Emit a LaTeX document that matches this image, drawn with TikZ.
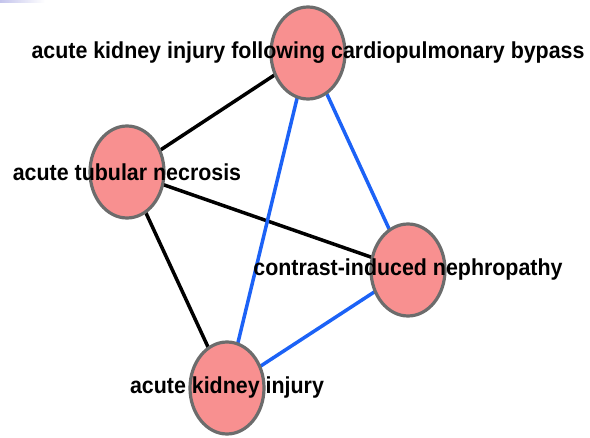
\documentclass[tikz,border=0pt]{standalone}
\usepackage{fontspec}
\setmainfont{Liberation Sans}
\usetikzlibrary{shapes.geometric,backgrounds}

\definecolor{nodepink}{RGB}{248,144,144}
\definecolor{nodeline}{RGB}{108,108,108}
\definecolor{edgeblue}{RGB}{28,98,246}
\definecolor{corner}{RGB}{196,196,236}

\tikzset{
  disease/.style={ellipse,draw=nodeline,fill=nodepink,line width=3.2pt,
    inner sep=0pt,minimum width=74pt,minimum height=92pt},
  lbl/.style={inner sep=0pt,yscale=1.08,font=\fontsize{21.4}{24}\selectfont\bfseries},
  black edge/.style={black,line width=3.5pt},
  blue edge/.style={edgeblue,line width=3.5pt}
}

\begin{document}
\begin{tikzpicture}[x=1pt,y=-1pt]
\useasboundingbox (0,0) rectangle (590,438);
\shade[left color=corner,right color=white] (0,0) rectangle (45,3);
% the four terms
\node[disease] (akicpb) at (308,53) {};
\node[disease] (atn) at (127,172) {};
\node[disease] (cin) at (408,270) {};
\node[disease] (aki) at (227,388) {};
% links
\begin{scope}[on background layer]
\draw[black edge] (akicpb.center) -- (atn.center);
\draw[black edge] (atn.center) -- (cin.center);
\draw[black edge] (atn.center) -- (aki.center);
\draw[blue edge] (akicpb.center) -- (aki.center);
\draw[blue edge] (akicpb.center) -- (cin.center);
\draw[blue edge] (cin.center) -- (aki.center);
\end{scope}
% labels on top
\node[lbl] (akicpblbl) at (akicpb) {acute kidney injury following cardiopulmonary bypass};
\node[lbl] (atnlbl) at (atn) {acute tubular necrosis};
\node[lbl] (cinlbl) at (cin) {contrast-induced nephropathy};
\node[lbl] (akilbl) at (aki) {acute kidney injury};
\end{tikzpicture}
\end{document}
